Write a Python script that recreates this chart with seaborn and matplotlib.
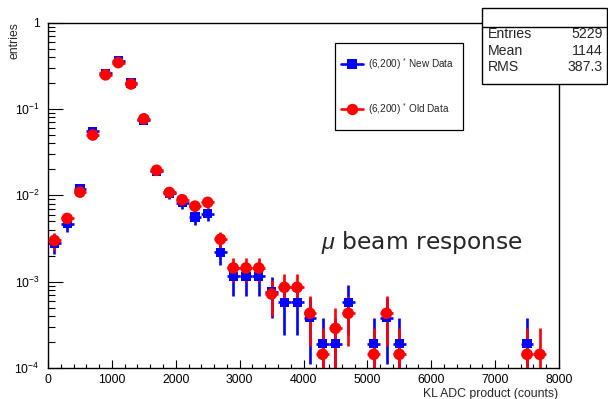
import numpy as np
import matplotlib
matplotlib.use("Agg")
import matplotlib.pyplot as plt
import matplotlib.ticker as mticker
from matplotlib.patches import Rectangle
from matplotlib.lines import Line2D
import seaborn as sns
import pandas as pd

# ---------------- data ----------------
bins_new = [100, 300, 500, 700, 900, 1100, 1300, 1500, 1700, 1900, 2100, 2300, 2500, 2700,
            2900, 3100, 3300, 3500, 3700, 3900, 4100, 4300, 4500, 4700, 5100, 5300, 5500, 7500]
vals_new = [2.8e-3, 4.7e-3, 1.19e-2, 0.055, 0.26, 0.36, 0.20, 0.074, 0.019, 0.0106, 0.0082,
            0.0056, 0.0061, 0.0022, 1.15e-3, 1.15e-3, 1.15e-3, 7.65e-4, 5.74e-4, 5.74e-4,
            3.82e-4, 1.91e-4, 1.91e-4, 5.74e-4, 1.91e-4, 3.82e-4, 1.91e-4, 1.91e-4]
bins_old = [100, 300, 500, 700, 900, 1100, 1300, 1500, 1700, 1900, 2100, 2300, 2500, 2700,
            2900, 3100, 3300, 3500, 3700, 3900, 4100, 4300, 4500, 4700, 5100, 5300, 5500,
            7500, 7700]
vals_old = [3.0e-3, 5.4e-3, 1.09e-2, 0.050, 0.249, 0.345, 0.195, 0.077, 0.0195, 0.0108,
            0.0089, 0.0075, 0.0083, 0.0031, 1.44e-3, 1.44e-3, 1.44e-3, 7.2e-4, 8.6e-4, 8.6e-4,
            4.3e-4, 1.44e-4, 2.88e-4, 4.3e-4, 1.44e-4, 4.3e-4, 1.44e-4, 1.44e-4, 1.44e-4]
n_new = 5229
n_old = 6950
bin_half = 100
labels = ["(6,200) $^{*}$ New Data", "(6,200) $^{*}$ Old Data"]
stats_names = ["Entries", "Mean", "RMS"]
stats_vals = ["5229", "1144", "387.3"]
y_ticks = [1e-4, 1e-3, 1e-2, 1e-1, 1]
y_ticklabels = ["$10^{-4}$", "$10^{-3}$", "$10^{-2}$", "$10^{-1}$", "1"]

# ---------------- style ----------------
sns.set_style("white")
plt.rcParams["font.family"] = ["Liberation Sans", "DejaVu Sans"]
plt.rcParams["mathtext.fontset"] = "custom"
plt.rcParams["mathtext.rm"] = "Liberation Sans"
plt.rcParams["mathtext.it"] = "Liberation Sans:italic"
plt.rcParams["mathtext.bf"] = "Liberation Sans:bold"

W, H = 608, 399
fig = plt.figure(figsize=(W / 100, H / 100), dpi=100)
fig.patch.set_facecolor("white")
ax = fig.add_axes([48 / W, 1 - 368 / H, (559 - 48) / W, (368 - 22.7) / H])
ax.set_facecolor("white")

df_new = pd.DataFrame({"x": bins_new, "y": vals_new})
df_old = pd.DataFrame({"x": bins_old, "y": vals_old})

def draw(df, n, color, marker, size):
    v = df["y"].to_numpy()
    err = np.sqrt(v / n)
    lo = np.minimum(err, v - 1e-9)
    ax.errorbar(df["x"], v, yerr=[lo, err], xerr=bin_half, fmt="none",
                ecolor=color, elinewidth=1.9, capsize=0, zorder=2)
    sns.scatterplot(data=df, x="x", y="y", ax=ax, color=color, marker=marker,
                    s=size, edgecolor="none", linewidth=0, zorder=3, legend=False)

ax.set_yscale("log")
draw(df_new, n_new, "#0000ff", "s", 44)
draw(df_old, n_old, "#ff0000", "o", 70)

ax.set_xlim(0, 8000)
ax.set_ylim(1e-4, 1)
ax.set_xlabel("")
ax.set_ylabel("")

ax.xaxis.set_major_locator(mticker.MultipleLocator(1000))
ax.xaxis.set_minor_locator(mticker.MultipleLocator(200))
ax.set_yticks(y_ticks)
ax.set_yticklabels(y_ticklabels)
ax.yaxis.set_minor_locator(mticker.LogLocator(base=10, subs=np.arange(2, 10)))
ax.yaxis.set_minor_formatter(mticker.NullFormatter())

ax.tick_params(axis="both", which="both", direction="in", color="black",
               bottom=True, left=True, top=False, right=False,
               labelsize=8.8, labelcolor="black")
ax.tick_params(axis="y", which="major", length=10.5, width=0.8, pad=6)
ax.tick_params(axis="y", which="minor", length=5.2, width=0.8)
ax.tick_params(axis="x", which="major", length=6, width=0.8, pad=4)
ax.tick_params(axis="x", which="minor", length=3, width=0.8)
for s in ax.spines.values():
    s.set_color("black")
    s.set_linewidth(1.0)
    s.set_visible(True)

# axis titles
fig.text(558 / W, 1 - 394 / H, "KL ADC product (counts)", ha="right", va="center",
         fontsize=8.8)
fig.text(15 / W, 1 - 22 / H, "entries", ha="center", va="top", rotation=90,
         fontsize=8.8)

# annotation
fig.text(321 / W, 1 - 243 / H, r"$\mu$ beam response", ha="left", va="center",
         fontsize=16.8, family=["DejaVu Sans"])

# legend box
fig.patches.append(Rectangle((335 / W, 1 - 130 / H), (463 - 335) / W, (130 - 43) / H,
                             transform=fig.transFigure, facecolor="white",
                             edgecolor="black", linewidth=0.9, zorder=5))
for yy, col, mk, ms, lab in [(64, "#0000ff", "s", 6.5, labels[0]),
                             (109, "#ff0000", "o", 8.2, labels[1])]:
    yf = 1 - yy / H
    fig.lines.append(Line2D([341 / W, 363 / W], [yf, yf], transform=fig.transFigure,
                            color=col, linewidth=1.9, zorder=6))
    fig.lines.append(Line2D([352 / W], [yf], transform=fig.transFigure, color=col,
                            marker=mk, markersize=ms, markeredgewidth=0, zorder=7))
    fig.text(368 / W, yf, lab, ha="left", va="center", fontsize=7.2, zorder=8)

# stats box
fig.patches.append(Rectangle((482 / W, 1 - 84 / H), (607 - 482) / W, (84 - 8) / H,
                             transform=fig.transFigure, facecolor="white",
                             edgecolor="black", linewidth=1.0, zorder=5))
fig.lines.append(Line2D([482 / W, 607 / W], [1 - 27 / H, 1 - 27 / H],
                        transform=fig.transFigure, color="black", linewidth=1.0, zorder=6))
for i, (nm, vl) in enumerate(zip(stats_names, stats_vals)):
    yf = 1 - (34 + 16.7 * i) / H
    fig.text(488 / W, yf, nm, ha="left", va="center", fontsize=10.2, zorder=8)
    fig.text(603 / W, yf, vl, ha="right", va="center", fontsize=10.2, zorder=8)

fig.savefig("out.png", dpi=100, facecolor="white")
